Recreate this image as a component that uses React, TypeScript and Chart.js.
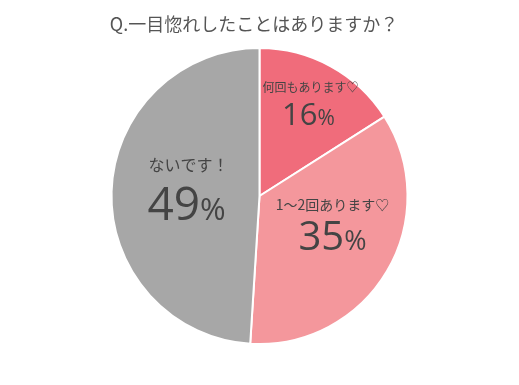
import React, { useEffect, useRef } from "react";
import { Chart, registerables } from "chart.js";

Chart.register(...registerables);

const title = "Q.一目惚れしたことはありますか？";
const categories = ["何回もあります♡", "1〜2回あります♡", "ないです！"];
const values = [16, 35, 49];
const colors = ["#f06c7b", "#f4979c", "#a7a7a7"];

// style: label placement relative to pie center, in units of radius
const labelStyle = [
  { lx: 0.345, ly: -0.736, nx: 0.331, ny: -0.48, ls: 12, ns: 31, ps: 21 },
  { lx: 0.493, ly: 0.061, nx: 0.493, ny: 0.365, ls: 14, ns: 40, ps: 27 },
  { lx: -0.48, ly: -0.209, nx: -0.493, ny: 0.162, ls: 16, ns: 46, ps: 31 },
];

const CJK = '"Noto Sans CJK JP", "Noto Sans", sans-serif';
const NUM = '"Open Sans", "Noto Sans", sans-serif';

const labelPlugin = {
  id: "labels",
  afterDraw(chart: any) {
    const ctx = chart.ctx;
    const meta = chart.getDatasetMeta(0);
    ctx.save();
    // title
    ctx.fillStyle = "#555555";
    ctx.font = `18px ${CJK}`;
    ctx.textAlign = "center";
    ctx.textBaseline = "middle";
    ctx.fillText(title, 254, 24);
    meta.data.forEach((arc: any, i: number) => {
      const st = labelStyle[i];
      const R = arc.outerRadius;
      const cx = arc.x;
      const cy = arc.y;
      ctx.fillStyle = "#444444";
      ctx.textAlign = "center";
      ctx.textBaseline = "middle";
      ctx.font = `${st.ls}px ${CJK}`;
      ctx.fillText(categories[i], cx + st.lx * R, cy + st.ly * R);
      const num = String(values[i]);
      ctx.font = `${st.ns}px ${NUM}`;
      const wn = ctx.measureText(num).width;
      ctx.font = `${st.ps}px ${NUM}`;
      const wp = ctx.measureText("%").width;
      const total = wn + wp;
      const x0 = cx + st.nx * R - total / 2;
      const by = cy + st.ny * R;
      ctx.textAlign = "left";
      ctx.textBaseline = "alphabetic";
      ctx.font = `${st.ns}px ${NUM}`;
      ctx.fillText(num, x0, by);
      ctx.font = `${st.ps}px ${NUM}`;
      ctx.fillText("%", x0 + wn, by);
    });
    ctx.restore();
  },
};

export default function App() {
  const ref = useRef<HTMLCanvasElement>(null);
  useEffect(() => {
    document.body.style.margin = "0";
    const chart = new Chart(ref.current!, {
      type: "pie",
      data: {
        labels: categories,
        datasets: [
          {
            data: values,
            backgroundColor: colors,
            borderColor: "#ffffff",
            borderWidth: 2,
          },
        ],
      },
      options: {
        animation: false,
        responsive: false,
        layout: { padding: { top: 47, bottom: 40, left: 0, right: 0 } },
        plugins: {
          legend: { display: false },
          tooltip: { enabled: false },
          title: { display: false },
        },
      },
      plugins: [labelPlugin],
    });
    return () => chart.destroy();
  }, []);
  return (
    <div style={{ position: "absolute", left: 0, top: 0, width: 519, height: 385, background: "#fff" }}>
      <canvas ref={ref} width={519} height={385} />
    </div>
  );
}
